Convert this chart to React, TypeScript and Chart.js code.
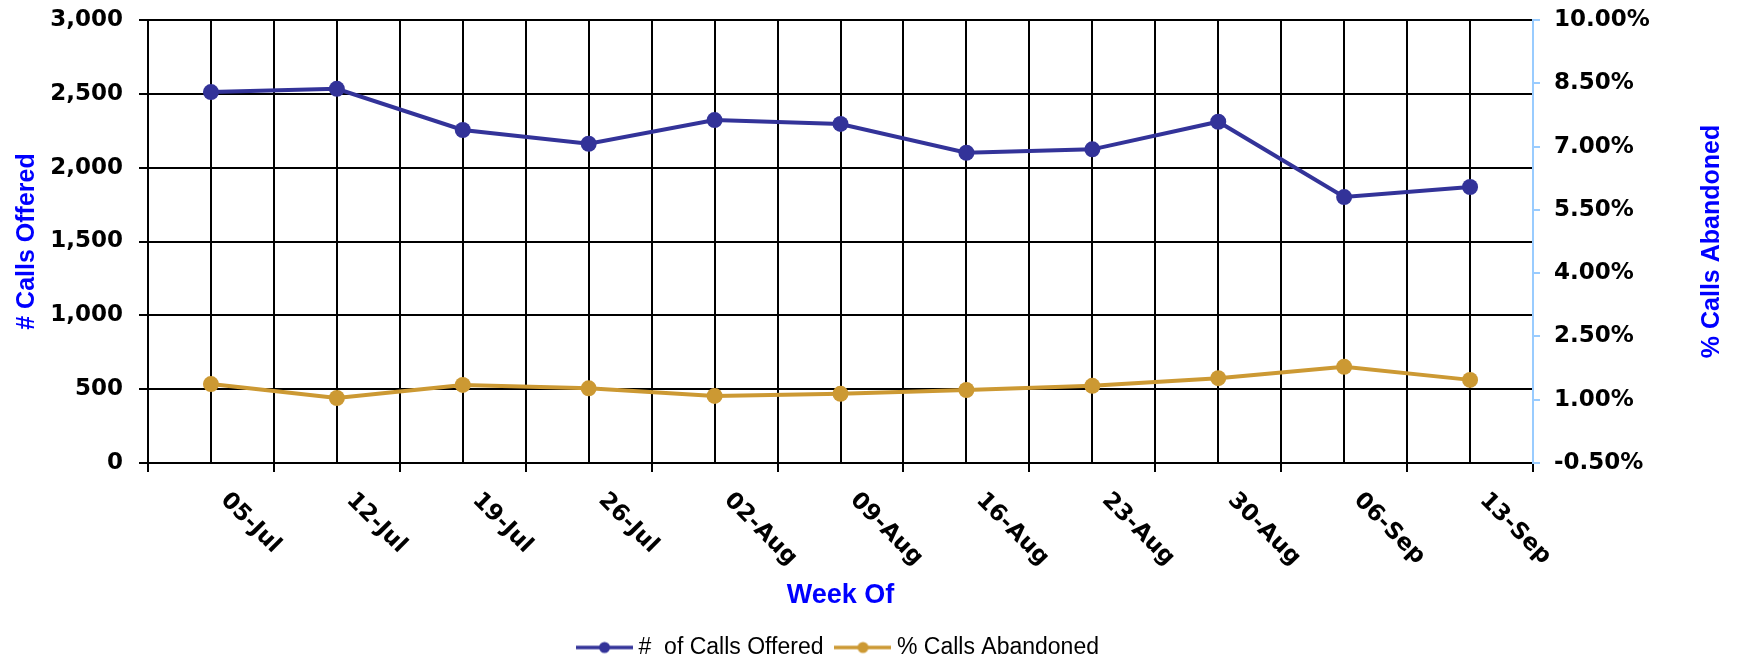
import React, { useEffect, useRef } from 'react';
import { Chart, registerables } from 'chart.js';

Chart.register(...registerables);

// ---- data ----
const weeks = ['05-Jul', '12-Jul', '19-Jul', '26-Jul', '02-Aug', '09-Aug', '16-Aug', '23-Aug', '30-Aug', '06-Sep', '13-Sep'];
const callsOffered = [2512, 2534, 2255, 2162, 2322, 2296, 2101, 2124, 2311, 1801, 1869];
const pctAbandoned = [1.37, 1.04, 1.35, 1.27, 1.09, 1.14, 1.23, 1.33, 1.51, 1.78, 1.47];

const seriesNames = ['#  of Calls Offered', '% Calls Abandoned'];
const axisTitles = { x: 'Week Of', left: '# Calls Offered', right: '% Calls Abandoned' };
const leftRange = { min: 0, max: 3000, step: 500 };
const rightRange = { min: -0.5, max: 10, step: 1.5 };

const BLUE = '#333399';
const GOLD = '#CC9933';
const TITLE_BLUE = '#0000FF';
const LIGHT_AXIS = '#99CCFF';

const W = 1739;
const H = 669;

function legendIcon(color: string) {
  const c = document.createElement('canvas');
  c.width = 57;
  c.height = 14;
  const g = c.getContext('2d')!;
  g.strokeStyle = color;
  g.lineWidth = 3.5;
  g.beginPath();
  g.moveTo(0, 7);
  g.lineTo(57, 7);
  g.stroke();
  g.fillStyle = color;
  g.beginPath();
  g.arc(28.5, 7, 5.5, 0, Math.PI * 2);
  g.fill();
  return c;
}

const customText = {
  id: 'customText',
  afterDraw(chart: any) {
    const ctx = chart.ctx;
    const xs = chart.scales.x;
    const area = chart.chartArea;
    ctx.save();
    ctx.fillStyle = '#000';
    ctx.font = 'bold 23px "DejaVu Sans"';
    ctx.textAlign = 'left';
    ctx.textBaseline = 'alphabetic';
    weeks.forEach((w, i) => {
      const px = xs.getPixelForValue(i);
      ctx.save();
      ctx.translate(px + 9, area.bottom + 38);
      ctx.rotate(Math.PI / 4);
      ctx.fillText(w, 0, 0);
      ctx.restore();
    });
    ctx.save();
    ctx.translate(chart.width - 27, (area.top + area.bottom) / 2);
    ctx.rotate(-Math.PI / 2);
    ctx.font = 'bold 25px "Liberation Sans"';
    ctx.fillStyle = TITLE_BLUE;
    ctx.textAlign = 'center';
    ctx.textBaseline = 'middle';
    ctx.fillText(axisTitles.right, 0, 0);
    ctx.restore();
    ctx.restore();
  },
};

export default function App() {
  const ref = useRef<HTMLCanvasElement | null>(null);

  useEffect(() => {
    if (!ref.current) return;
    const icons = [legendIcon(BLUE), legendIcon(GOLD)];
    const tickFont = { family: '"DejaVu Sans"', size: 23, weight: 'bold' as const };

    const chart = new Chart(ref.current, {
      type: 'line',
      data: {
        labels: weeks,
        datasets: [
          {
            label: seriesNames[0],
            data: callsOffered,
            yAxisID: 'y',
            xAxisID: 'x',
            borderColor: BLUE,
            backgroundColor: BLUE,
            borderWidth: 4,
            pointRadius: 8,
            pointBorderWidth: 0,
            pointBackgroundColor: BLUE,
            pointBorderColor: BLUE,
            tension: 0,
          },
          {
            label: seriesNames[1],
            data: pctAbandoned,
            yAxisID: 'y1',
            xAxisID: 'x',
            borderColor: GOLD,
            backgroundColor: GOLD,
            borderWidth: 4,
            pointRadius: 8,
            pointBorderWidth: 0,
            pointBackgroundColor: GOLD,
            pointBorderColor: GOLD,
            tension: 0,
          },
        ],
      },
      options: {
        responsive: false,
        animation: false,
        devicePixelRatio: 1,
        layout: { padding: { top: 20, left: 0, right: 0, bottom: 0 } },
        plugins: {
          tooltip: { enabled: false },
          legend: {
            position: 'bottom',
            fullSize: false,
            labels: {
              usePointStyle: true,
              pointStyleWidth: 45,
              padding: 17,
              color: '#000',
              font: { family: '"Liberation Sans"', size: 23, weight: 'normal' as const },
              generateLabels: (c: any) => {
                const items = Chart.defaults.plugins.legend.labels.generateLabels(c);
                return items.map((it: any, i: number) => ({ ...it, pointStyle: icons[i], lineWidth: 0 }));
              },
            },
          },
        },
        scales: {
          x: {
            type: 'category',
            position: 'bottom',
            offset: true,
            grid: { offset: true, color: '#000', lineWidth: 2, tickLength: 9, drawTicks: true, drawOnChartArea: true },
            border: { display: true, color: '#000', width: 2 },
            ticks: { display: false },
            title: {
              display: true,
              text: axisTitles.x,
              color: TITLE_BLUE,
              font: { family: '"Liberation Sans"', size: 27, weight: 'bold' as const },
              padding: { top: 0, bottom: 7 },
            },
            afterFit: (s: any) => { s.height = 156; },
          },
          x2: {
            type: 'category',
            position: 'top',
            offset: true,
            grid: { offset: false, color: '#000', lineWidth: 2, drawTicks: false, drawOnChartArea: true },
            border: { display: false },
            ticks: { display: false },
            afterFit: (s: any) => { s.height = 0; s.paddingLeft = 0; s.paddingRight = 0; },
          },
          y: {
            type: 'linear',
            position: 'left',
            min: leftRange.min,
            max: leftRange.max,
            grid: { color: '#000', lineWidth: 2, tickLength: 9 },
            border: { display: true, color: '#000', width: 2 },
            ticks: {
              stepSize: leftRange.step,
              padding: 16,
              color: '#000',
              font: tickFont,
              callback: (v: any) => Number(v).toLocaleString('en-US'),
            },
            title: {
              display: true,
              text: axisTitles.left,
              color: TITLE_BLUE,
              font: { family: '"Liberation Sans"', size: 25, weight: 'bold' as const },
              padding: { top: 12, bottom: 0 },
            },
            afterFit: (s: any) => { s.width = 148; s.paddingTop = 0; s.paddingBottom = 0; },
          },
          y1: {
            type: 'linear',
            position: 'right',
            min: rightRange.min,
            max: rightRange.max,
            grid: { color: LIGHT_AXIS, lineWidth: 2, tickLength: 7, drawOnChartArea: false },
            border: { display: true, color: LIGHT_AXIS, width: 2 },
            ticks: {
              stepSize: rightRange.step,
              padding: 14,
              color: '#000',
              font: tickFont,
              callback: (v: any) => Number(v).toFixed(2) + '%',
            },
            afterFit: (s: any) => { s.width = 206; s.paddingTop = 0; s.paddingBottom = 0; },
          },
        },
      },
      plugins: [customText],
    } as any);

    return () => chart.destroy();
  }, []);

  return (
    <div style={{ position: 'absolute', left: 0, top: 0, width: W, height: 662, overflow: 'hidden', background: '#fff' }}>
      <canvas ref={ref} width={W} height={H} style={{ width: W, height: H, display: 'block' }} />
    </div>
  );
}
